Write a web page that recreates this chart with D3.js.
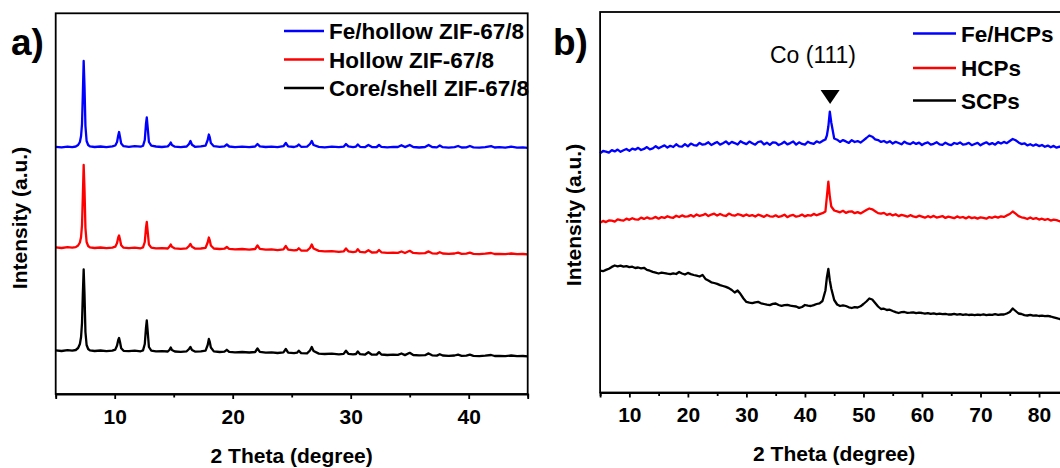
<!DOCTYPE html>
<html>
<head>
<meta charset="utf-8">
<script src="https://cdn.jsdelivr.net/npm/d3@7"></script>
<style>
  html, body { margin: 0; padding: 0; background: #fff; }
  svg { display: block; }
  text { font-family: "Liberation Sans", Arial, Helvetica, sans-serif; fill: #000; }
</style>
</head>
<body>
<svg id="chart" width="1060" height="468"></svg>
<script>
// ---------------- Panel a) data ----------------
const leftTheta = [
  5.0, 5.5, 6.0, 6.4, 6.7, 6.9, 7.05, 7.15, 7.23, 7.3,
  7.37, 7.44, 7.52, 7.62, 7.75, 7.9, 8.3, 8.8, 9.3, 9.8,
  10.05, 10.2, 10.3, 10.37, 10.45, 10.55, 10.75, 11.2, 11.7, 12.2,
  12.4, 12.55, 12.65, 12.72, 12.8, 12.9, 13.1, 13.5, 14.0, 14.5,
  14.65, 14.75, 14.85, 15.1, 15.6, 16.1, 16.3, 16.42, 16.55, 16.8,
  17.3, 17.7, 17.88, 17.98, 18.05, 18.15, 18.4, 18.9, 19.3, 19.5,
  19.7, 20.2, 20.8, 21.4, 21.9, 22.1, 22.3, 22.8, 23.3, 23.8,
  24.3, 24.5, 24.7, 25.2, 25.45, 25.6, 25.8, 26.3, 26.55, 26.7,
  26.85, 27.3, 27.8, 28.4, 29.0, 29.4, 29.6, 29.8, 30.2, 30.45,
  30.6, 30.8, 31.2, 31.5, 31.8, 32.2, 32.4, 32.6, 33.1, 33.6,
  34.0, 34.3, 34.6, 35.0, 35.3, 35.8, 36.3, 36.6, 36.9, 37.3,
  37.55, 37.8, 38.3, 38.8, 39.1, 39.4, 39.8, 40.1, 40.4, 40.9,
  41.4, 41.9, 42.2, 42.6, 43.1, 43.6, 44.1, 44.6, 45.0
];
const leftFeHollow = [
  247.2, 246.6, 247.4, 246.9, 247.5, 249, 252, 258, 270, 300,
  333, 308, 268, 253, 249, 247.6, 247, 247.5, 246.8, 247.6,
  248.5, 252, 258.5, 262, 257, 250.5, 247.8, 247.2, 247.8, 247.3,
  248.2, 254, 270, 276.5, 266, 252, 248.3, 247.5, 247, 247.6,
  249.5, 251.5, 249, 247.3, 246.9, 247.5, 250, 253, 249.3, 247.2,
  247.6, 248.3, 254, 259.5, 257, 251, 247.8, 247.2, 247.6, 249.5,
  247.5, 246.8, 247.4, 246.9, 247.5, 250, 247.6, 247, 247.4, 246.8,
  247.8, 251, 247.6, 247, 247.8, 249.5, 247.2, 247.4, 250, 253,
  249, 247.1, 246.7, 247.3, 246.8, 247.3, 250, 247.6, 246.9, 247.4,
  249.5, 247.2, 246.8, 249, 246.9, 247, 249, 247.2, 246.6, 247.1,
  247, 248.8, 246.9, 249, 247, 246.5, 247, 249, 247, 246.6,
  248.5, 246.8, 246.4, 246.9, 248, 246.5, 246.7, 248, 246.6, 246.3,
  246.8, 247.8, 246.5, 246.8, 246.3, 247.3, 246.4, 246.7, 246.2
];
const leftHollow = [
  146.6, 146.0, 146.8, 146.3, 146.9, 148.5, 151.5, 157, 169, 198,
  229, 205, 166, 152, 148, 146.6, 146, 146.5, 145.8, 146.4,
  147.3, 151, 156.5, 158.5, 154.5, 148.8, 146.3, 145.8, 146.4, 145.7,
  146.6, 152, 166, 172, 162, 149.5, 146.4, 145.6, 145.9, 145.5,
  147.5, 149.5, 147.2, 145.6, 145.2, 145.7, 148, 150, 147.2, 145.4,
  145.5, 146.2, 151.5, 156.5, 154, 148.5, 145.5, 145, 145.3, 147,
  145.2, 144.6, 145, 144.4, 145, 148.5, 145.2, 144.3, 144.6, 143.9,
  144.6, 148, 144.3, 143.6, 144, 145.8, 143.5, 143.4, 146, 149.5,
  145.5, 143.1, 142.6, 142.9, 142.2, 142.6, 145.5, 142.7, 141.9, 142.3,
  144.8, 142.1, 141.6, 143.8, 141.5, 141.6, 144, 141.7, 141.1, 141.4,
  141.2, 142.5, 141, 143.2, 141.1, 140.6, 140.9, 142.6, 140.7, 140.4,
  141.8, 140.5, 140.1, 140.5, 141.4, 140.2, 140.4, 141.3, 140.1, 139.9,
  140.3, 141, 140, 140.2, 139.8, 140.5, 139.8, 140, 139.7
];
const leftCoreShell = [
  43.6, 43.0, 43.8, 43.3, 44.0, 46, 50, 57, 71, 100,
  124.5, 100, 62, 49, 45, 43.6, 43, 43.5, 42.9, 43.4,
  44.4, 48.5, 54, 56, 52, 45.8, 43.2, 42.8, 43.3, 42.7,
  43.6, 50, 66, 73.5, 62, 47, 43.3, 42.6, 42.9, 42.5,
  44.3, 46.5, 44, 42.5, 42.2, 42.7, 45, 47, 44, 42.4,
  42.6, 43.3, 49, 55, 52.5, 46.5, 42.6, 42, 42.3, 44.2,
  42.2, 41.7, 42, 41.5, 42, 45.5, 42.1, 41.3, 41.6, 41,
  41.7, 45, 41.4, 40.8, 41.3, 43.3, 40.9, 40.7, 43.5, 47,
  43, 40.4, 40, 40.3, 39.7, 40.1, 43.3, 40.2, 39.6, 40,
  42.6, 39.8, 39.3, 41.8, 39.3, 39.4, 41.9, 39.5, 39, 39.3,
  39.1, 40.5, 38.9, 41.2, 39, 38.6, 38.8, 40.6, 38.7, 38.4,
  39.8, 38.5, 38.1, 38.5, 39.3, 38.2, 38.4, 39.3, 38.1, 37.9,
  38.3, 39, 38, 38.2, 37.8, 38.5, 37.8, 38, 37.7
];
const leftMajorTicks = [10, 20, 30, 40];
const leftMinorTicks = [5, 15, 25, 35, 45];
const leftLegend = ["Fe/hollow ZIF-67/8", "Hollow ZIF-67/8", "Core/shell ZIF-67/8"];

// ---------------- Panel b) data ----------------
const rightTheta = [
  5, 5.5, 6, 6.5, 7, 7.5, 8, 8.5, 9, 9.5,
  10, 10.5, 11, 11.5, 12, 12.5, 13, 13.5, 14, 14.5,
  15, 15.5, 16, 16.5, 17, 17.5, 18, 18.5, 19, 19.5,
  20, 20.5, 21, 21.5, 22, 22.5, 23, 23.5, 24, 24.5,
  25, 25.5, 26, 26.5, 27, 27.5, 28, 28.5, 29, 29.5,
  30, 30.5, 31, 31.5, 32, 32.5, 33, 33.5, 34, 34.5,
  35, 35.5, 36, 36.5, 37, 37.5, 38, 38.5, 39, 39.5,
  40, 40.5, 41, 41.5, 42, 42.5, 43, 43.5, 43.75, 44,
  44.25, 44.5, 45, 45.5, 46, 46.5, 47, 47.5, 48, 48.5,
  49, 49.5, 50, 50.5, 51, 51.5, 52, 52.5, 53, 53.5,
  54, 54.5, 55, 55.5, 56, 56.5, 57, 57.5, 58, 58.5,
  59, 59.5, 60, 60.5, 61, 61.5, 62, 62.5, 63, 63.5,
  64, 64.5, 65, 65.5, 66, 66.5, 67, 67.5, 68, 68.5,
  69, 69.5, 70, 70.5, 71, 71.5, 72, 72.5, 73, 73.5,
  74, 74.5, 75, 75.5, 76, 76.5, 77, 77.5, 78, 78.5,
  79, 79.5, 80, 80.5, 81, 81.5, 82, 82.5, 83, 83.5,
  84, 84.5, 85
];
const rightFeHCPs = [
  239.2, 241.5, 240.9, 239.8, 242.4, 241.1, 242.9, 240.7, 242.2, 243.5,
  241.6, 243.9, 242.8, 244.7, 242.5, 243.6, 245.4, 243.2, 244.1, 246.3,
  244.2, 245.8, 247.1, 244.9, 246.7, 245.5, 248.2, 246.1, 245.8, 248.4,
  246.2, 248.9, 247.4, 246.9, 249.6, 247.8, 248.4, 250.2, 247.5, 249.1,
  250.5, 247.9, 249.2, 251.1, 248.3, 250.6, 249.4, 247.9, 251.3, 249.6,
  248.4, 250.9, 249.2, 247.8, 250.5, 251.2, 248.1, 249.8, 247.6, 250.1,
  249.9, 247.5, 248.8, 250.7, 248.1, 249.4, 251, 247.9, 250.2, 248.6,
  247.9, 250.8, 249.3, 248.6, 251.2, 249.8, 251.6, 253, 257, 266,
  280.8, 270, 254, 252.8, 250.6, 252.4, 251.1, 249.6, 252.3, 250.5,
  251.4, 249.9, 252.2, 254.5, 257, 255.8, 253.2, 252.4, 250.6, 251.5,
  249.8, 251.3, 248.9, 250.7, 249.5, 248.2, 250.8, 249.1, 248.4, 250.3,
  248.6, 249.9, 247.5, 249.2, 250.1, 247.9, 248.7, 250.3, 248.1, 247.6,
  249.8, 248.2, 247.4, 249.5, 248.6, 250.1, 247.8, 248.4, 249.7, 247.3,
  248.5, 249.6, 247.2, 248.9, 250.2, 248.1, 249.4, 247.8, 250.4, 249,
  250.6, 249.3, 251.5, 253.5, 252.2, 250.1, 248.4, 249.2, 247.1, 248.3,
  246.8, 248.1, 246.4, 247.5, 245.7, 246.9, 245.2, 246.6, 244.8, 245.9,
  244.3, 245.7, 244.6
];
const rightHCPs = [
  169.8, 171.6, 170.4, 172.1, 171.8, 170.9, 173.2, 172.3, 171.9, 173.8,
  172.7, 174.3, 173.1, 172.8, 174.9, 173.6, 175.1, 173.9, 174.2, 175.6,
  173.8, 175.4, 174.6, 176.3, 175.1, 174.7, 176.8, 175.5, 177.1, 175.9,
  176.1, 177.4, 175.8, 178.1, 176.6, 177.3, 178.6, 176.4, 177.9, 178.8,
  176.9, 178.5, 177.2, 176.5, 178.9, 177.4, 176.8, 178.3, 177.6, 176.4,
  178.1, 176.6, 177.4, 175.9, 177.8, 176.9, 175.6, 177.5, 176.2, 175.8,
  177.2, 175.6, 176.4, 177.8, 175.3, 176.9, 177.6, 175.8, 176.5, 177.9,
  176.1, 177.4, 176.8, 178.6, 177.2, 178.4, 179.3, 181, 196, 210.8,
  196, 186, 182, 181.1, 180.2, 181.7, 179.6, 180.9, 181.2, 179.3,
  180.4, 179.1, 180.8, 182.5, 184, 183.2, 181.3, 179.4, 178.8, 179.6,
  177.6, 178.7, 177.1, 178.3, 176.4, 177.6, 176.9, 175.8, 177.3, 176.2,
  175.4, 176.8, 175.9, 174.8, 176.3, 175.2, 176.6, 174.9, 175.7, 176.4,
  174.6, 175.9, 175.2, 174.3, 176.1, 174.8, 175.5, 174.1, 175.8, 174.4,
  175.1, 173.9, 175.2, 174.6, 173.8, 175.4, 174.7, 175.9, 174.9, 176.2,
  175.6, 177.1, 178.5, 181, 178.8, 176.4, 175.2, 174.6, 173.5, 175.1,
  173.6, 174.4, 172.9, 173.8, 172.6, 173.5, 171.9, 172.8, 172.4, 171.2,
  172.3, 171.4, 171.9
];
const rightSCPs = [
  121.8, 121.3, 122.6, 123.8, 125.6, 127, 126.2, 126.8, 125.8, 126.3,
  125.3, 125.8, 124.5, 125, 124.2, 124.7, 122.6, 121.8, 120.6, 119.8,
  119, 119.8, 119.4, 118.8, 118.4, 119.2, 118.5, 120.5, 119, 118,
  119.6, 118.4, 117.5, 116.8, 116, 117.6, 113.6, 112, 110.2, 109.5,
  108.6, 107.4, 106.5, 105.6, 104.4, 102.5, 100, 102, 98.4, 94,
  90.6, 89.8, 89.4, 90.2, 90.6, 89.2, 88.5, 87.8, 87.4, 88.6,
  89, 87.5, 86.6, 87.4, 87.6, 86.8, 86.4, 86, 84.6, 85.5,
  87.5, 86.8, 86.5, 87.4, 88.5, 89.2, 91.5, 102, 115, 123.5,
  112, 104, 92.5, 88, 86.5, 87.2, 86.5, 85.2, 84.5, 85.4,
  85, 86.2, 88.5, 91, 94, 93, 89.5, 86, 83.5, 83.8,
  82.5, 82.8, 81.5, 80.4, 79.5, 80.3, 80.5, 79.6, 79.8, 80.2,
  79.3, 79.8, 79.5, 78.8, 79.4, 78.6, 79.2, 78.3, 78.8, 78.4,
  78.7, 78, 78, 78.6, 77.8, 78.3, 77.6, 78.2, 77.5, 77.9,
  77.4, 77.8, 77.5, 78.2, 77.4, 77.9, 77.6, 78.3, 77.7, 78,
  78, 79, 80.5, 84, 81.5, 79, 78.5, 77.4, 77, 77.6,
  76.8, 77.2, 76.5, 76.9, 76.3, 76.6, 76, 75.2, 74.4, 73.5,
  73.4, 73.8, 73
];
const rightMajorTicks = [10, 20, 30, 40, 50, 60, 70, 80];
const rightMinorTicks = [5, 15, 25, 35, 45, 55, 65, 75, 85];
const rightLegend = ["Fe/HCPs", "HCPs", "SCPs"];
const annotationText = "Co (111)";
const annotationTheta = 44.3;

const seriesColors = ["#0000ff", "#ff0000", "#000000"];

// ---------------- Drawing ----------------
const svg = d3.select("#chart");
const FONT = 21;

function panel(cfg) {
  const g = svg.append("g");
  const x = d3.scaleLinear().domain(cfg.xDomain).range([cfg.left, cfg.right]);
  const y = d3.scaleLinear().domain(cfg.yDomain).range([cfg.bottom, cfg.top]);

  const line = d3.line().x(d => x(d[0])).y(d => y(d[1]));
  cfg.series.forEach((s, i) => {
    const pts = cfg.theta.map((t, k) => [t, s[k]]).filter(d => d[1] != null);
    g.append("path").datum(pts)
      .attr("fill", "none")
      .attr("stroke", seriesColors[i])
      .attr("stroke-width", 2.3)
      .attr("stroke-linejoin", "round")
      .attr("d", line);
  });

  // frame
  g.append("rect")
    .attr("x", cfg.left).attr("y", cfg.top)
    .attr("width", cfg.right - cfg.left).attr("height", cfg.bottom - cfg.top)
    .attr("fill", "none").attr("stroke", "#000").attr("stroke-width", 1.8);

  // major ticks with labels
  const ax = g.append("g").attr("transform", `translate(0,${cfg.bottom})`)
    .call(d3.axisBottom(x).tickValues(cfg.major).tickSize(5).tickPadding(10).tickFormat(d3.format("d")));
  ax.select(".domain").attr("stroke-width", 1.8);
  ax.selectAll(".tick line").attr("stroke-width", 1.8);
  ax.selectAll("text")
    .style("font-family", '"Liberation Sans", Arial, sans-serif')
    .style("font-weight", "bold").style("font-size", FONT + "px").attr("fill", "#000");

  // minor ticks
  const mx = g.append("g").attr("transform", `translate(0,${cfg.bottom})`)
    .call(d3.axisBottom(x).tickValues(cfg.minor).tickSize(3.5).tickFormat(""));
  mx.select(".domain").remove();
  mx.selectAll(".tick line").attr("stroke-width", 1.8);

  // x title
  g.append("text")
    .attr("x", (cfg.left + Math.min(cfg.right, 1069)) / 2)
    .attr("y", cfg.xTitleY)
    .attr("text-anchor", "middle")
    .style("font-weight", "bold").style("font-size", FONT + "px")
    .text("2 Theta (degree)");

  // y title
  g.append("text")
    .attr("transform", `translate(${cfg.yTitleX},${cfg.yTitleY}) rotate(-90)`)
    .attr("text-anchor", "middle")
    .style("font-weight", "bold").style("font-size", FONT + "px")
    .text("Intensity (a.u.)");

  // panel letter
  g.append("text")
    .attr("x", cfg.letterX).attr("y", 55)
    .style("font-weight", "bold").style("font-size", "37px")
    .text(cfg.letter);

  // legend
  cfg.legend.forEach((name, i) => {
    const ly = cfg.legendY[i];
    g.append("line")
      .attr("x1", cfg.legendX).attr("x2", cfg.legendX + cfg.legendLen)
      .attr("y1", ly).attr("y2", ly)
      .attr("stroke", seriesColors[i]).attr("stroke-width", 2.6);
    g.append("text")
      .attr("x", cfg.legendX + cfg.legendLen + 5).attr("y", ly)
      .attr("dy", "0.36em")
      .style("font-weight", "bold").style("font-size", cfg.legendFont + "px")
      .text(name);
  });

  return { g, x, y };
}

panel({
  left: 55.7, right: 527.7, top: 13.3, bottom: 394,
  xDomain: [5, 45], yDomain: [0, 380.7],
  theta: leftTheta, series: [leftFeHollow, leftHollow, leftCoreShell],
  major: leftMajorTicks, minor: leftMinorTicks,
  xTitleY: 463, yTitleX: 27, yTitleY: 218,
  letter: "a)", letterX: 11,
  legend: leftLegend, legendX: 284, legendLen: 40, legendY: [31, 59.5, 88], legendFont: 22.5
});

const pb = panel({
  left: 600.1, right: 1068.3, top: 12, bottom: 392.5,
  xDomain: [5, 85], yDomain: [0, 380.5],
  theta: rightTheta, series: [rightFeHCPs, rightHCPs, rightSCPs],
  major: rightMajorTicks, minor: rightMinorTicks,
  xTitleY: 461, yTitleX: 581, yTitleY: 215,
  letter: "b)", letterX: 553,
  legend: rightLegend, legendX: 913, legendLen: 43, legendY: [33.5, 68, 100.5], legendFont: 22.5
});

// annotation for Co (111)
const ax0 = pb.x(annotationTheta);
pb.g.append("text")
  .attr("x", 813).attr("y", 63)
  .attr("text-anchor", "middle")
  .style("font-size", "23px")
  .text(annotationText);
const triTop = pb.y(302.5), triBot = pb.y(288.5);
pb.g.append("path")
  .attr("d", `M${ax0 - 9.5},${triTop}L${ax0 + 9.5},${triTop}L${ax0},${triBot}Z`)
  .attr("fill", "#000");
</script>
</body>
</html>
